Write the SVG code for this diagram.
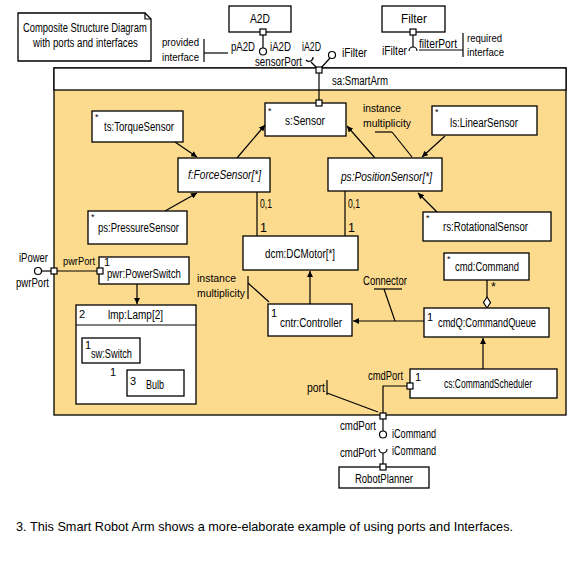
<svg xmlns="http://www.w3.org/2000/svg" width="575" height="561" viewBox="0 0 575 561">
<style>
.t{font-family:"Liberation Sans",Arial,sans-serif;font-size:12.5px;fill:#000}
.m{font-family:"Liberation Sans",Arial,sans-serif;font-size:11px;fill:#000}
.n{font-family:"Liberation Sans",Arial,sans-serif;font-size:11px;fill:#000}
.s{font-family:"Liberation Sans",Arial,sans-serif;font-size:9px;fill:#000}
.i{font-style:italic}
.b{fill:#fff;stroke:#000;stroke-width:1.3}
.l{fill:none;stroke:#000;stroke-width:1.2}
.p{fill:#fff;stroke:#000;stroke-width:1.2}
.cap{font-family:"Liberation Sans",Arial,sans-serif;font-size:13px;fill:#000}
</style>
<defs>
<marker id="a" markerUnits="userSpaceOnUse" markerWidth="7" markerHeight="6" refX="6" refY="3" orient="auto">
<path d="M0,0 L6,3 L0,6 z" fill="#000"/>
</marker>
</defs>
<rect width="575" height="561" fill="#fff"/>

<g id="note">
<path class="b" d="M18,13 H145 L151,19 V61 H18 Z"/>
<path class="l" d="M145,13 V19 H151"/>
<text class="t" transform="translate(23,32) scale(0.753,1)">Composite Structure Diagram</text>
<text class="t" transform="translate(33,47) scale(0.775,1)">with ports and interfaces</text>
</g>

<g id="A2D">
<rect class="b" x="229" y="6" width="62" height="26"/>
<text class="t" x="250" y="23" textLength="20" lengthAdjust="spacingAndGlyphs">A2D</text>
<line class="l" x1="263" y1="35" x2="263" y2="48"/>
<circle class="p" cx="263" cy="51.5" r="3.5"/>
<rect class="p" x="260" y="29" width="6" height="6"/>
<text class="t" x="231" y="51" textLength="24" lengthAdjust="spacingAndGlyphs">pA2D</text>
<text class="t" x="270" y="51" textLength="21" lengthAdjust="spacingAndGlyphs">iA2D</text>
<text class="t" x="255" y="66" textLength="47" lengthAdjust="spacingAndGlyphs">sensorPort</text>
</g>

<g id="provided-note">
<text class="m" x="162" y="46" textLength="37" lengthAdjust="spacingAndGlyphs">provided</text>
<text class="m" x="162" y="61" textLength="37" lengthAdjust="spacingAndGlyphs">interface</text>
<line class="l" x1="204" y1="39" x2="204" y2="62"/>
<line class="l" x1="204" y1="53" x2="228" y2="53"/>
</g>

<g id="Filter">
<rect class="b" x="382" y="6" width="63" height="26"/>
<text class="t" x="401" y="23" textLength="26" lengthAdjust="spacingAndGlyphs">Filter</text>
<line class="l" x1="413" y1="35" x2="413" y2="47"/>
<path class="l" d="M409,51 A4,4 0 0 1 417,51"/>
<rect class="p" x="410" y="29" width="6" height="6"/>
<text class="t" x="382" y="55" textLength="25" lengthAdjust="spacingAndGlyphs">iFilter</text>
<text class="t" x="419" y="48" textLength="38" lengthAdjust="spacingAndGlyphs">filterPort</text>
<line class="l" x1="419" y1="50" x2="463" y2="50"/>
<line class="l" x1="463" y1="33" x2="463" y2="57"/>
<text class="m" x="467" y="42" textLength="35" lengthAdjust="spacingAndGlyphs">required</text>
<text class="m" x="467" y="56" textLength="37" lengthAdjust="spacingAndGlyphs">interface</text>
</g>

<g id="SmartArm">
<rect x="54" y="68" width="512" height="347" fill="#FCDB8E" stroke="#000" stroke-width="1.3"/>
<rect x="54" y="68" width="512" height="22" fill="#fff" stroke="#000" stroke-width="1.3"/>
<text class="t" x="332" y="85" textLength="56" lengthAdjust="spacingAndGlyphs">sa:SmartArm</text>
<line class="l" x1="317" y1="68" x2="311" y2="62"/>
<path class="l" d="M306,60 A4,4 0 0 0 313,57"/>
<line class="l" x1="321" y1="68" x2="330" y2="58"/>
<circle class="p" cx="332" cy="55" r="3.5"/>
<text class="t" x="302" y="51" textLength="19" lengthAdjust="spacingAndGlyphs">iA2D</text>
<text class="t" x="342" y="57" textLength="25" lengthAdjust="spacingAndGlyphs">iFilter</text>
<line class="l" x1="319" y1="73" x2="319" y2="101"/>
<rect class="p" x="316" y="67" width="6" height="6"/>
</g>

<g id="connectors">
<line class="l" x1="175" y1="142" x2="197" y2="157" marker-end="url(#a)"/>
<line class="l" x1="237" y1="158" x2="265" y2="125" marker-end="url(#a)"/>
<line class="l" x1="165" y1="211" x2="197" y2="193" marker-end="url(#a)"/>
<line class="l" x1="375" y1="158" x2="347" y2="126" marker-end="url(#a)"/>
<line class="l" x1="445" y1="136" x2="422" y2="157" marker-end="url(#a)"/>
<line class="l" x1="437" y1="212" x2="418" y2="193" marker-end="url(#a)"/>
<line class="l" x1="257" y1="192" x2="257" y2="236"/>
<line class="l" x1="345" y1="191" x2="345" y2="236"/>
<line class="l" x1="310" y1="304" x2="310" y2="271" marker-end="url(#a)"/>
<line class="l" x1="424" y1="321" x2="353" y2="321" marker-end="url(#a)"/>
<line class="l" x1="487" y1="280" x2="487" y2="297"/>
<polygon points="487,297 490.5,302.5 487,308 483.5,302.5" fill="#fff" stroke="#000" stroke-width="1.2"/>
<line class="l" x1="483" y1="369" x2="483" y2="338" marker-end="url(#a)"/>
<polyline class="l" points="407,386 383,386 383,413"/>
<line class="l" x1="57" y1="271" x2="97" y2="271"/>
<line class="l" x1="137" y1="284" x2="137" y2="304" marker-end="url(#a)"/>
<polyline class="l" points="107,363 107,383 127,383"/>
<line class="l" x1="41.5" y1="271" x2="51" y2="271"/>
<line class="l" x1="383" y1="419" x2="383" y2="431"/>
<line class="l" x1="383" y1="453" x2="383" y2="464"/>
</g>

<g id="annotations">
<text class="m" x="363" y="112" textLength="38" lengthAdjust="spacingAndGlyphs">instance</text>
<text class="m" x="363" y="127" textLength="48" lengthAdjust="spacingAndGlyphs">multiplicity</text>
<line class="l" x1="375" y1="132" x2="392" y2="132"/>
<line class="l" x1="392" y1="132" x2="412" y2="157"/>
<text class="m" x="197" y="282" textLength="39" lengthAdjust="spacingAndGlyphs">instance</text>
<text class="m" x="197" y="297" textLength="48" lengthAdjust="spacingAndGlyphs">multiplicity</text>
<line class="l" x1="248" y1="276" x2="248" y2="299"/>
<line class="l" x1="248" y1="283" x2="269" y2="302"/>
<text class="t" x="363" y="285" textLength="44" lengthAdjust="spacingAndGlyphs">Connector</text>
<line class="l" x1="374" y1="289" x2="402" y2="289"/>
<line class="l" x1="384" y1="289" x2="395" y2="321"/>
<text class="t" x="307" y="392" textLength="18" lengthAdjust="spacingAndGlyphs">port</text>
<line class="l" x1="327" y1="380" x2="327" y2="395"/>
<line class="l" x1="327" y1="393" x2="378" y2="412"/>
<text class="t" x="260" y="208" textLength="12" lengthAdjust="spacingAndGlyphs">0,1</text>
<text class="t" x="260" y="232">1</text>
<text class="t" x="348" y="208" textLength="12" lengthAdjust="spacingAndGlyphs">0,1</text>
<text class="t" x="348" y="232">1</text>
<text class="t" x="491" y="291">*</text>
</g>

<g id="sSensor">
<rect class="b" x="265" y="103" width="81" height="33"/>
<text class="s" x="268" y="114">*</text>
<text class="t" x="285" y="125" textLength="40" lengthAdjust="spacingAndGlyphs">s:Sensor</text>
<rect class="p" x="316" y="100" width="6" height="6"/>
</g>

<g id="tsTorqueSensor">
<rect class="b" x="92" y="111" width="91" height="31"/>
<text class="s" x="95" y="120">*</text>
<text class="t" x="104" y="131" textLength="70" lengthAdjust="spacingAndGlyphs">ts:TorqueSensor</text>
</g>

<g id="lsLinearSensor">
<rect class="b" x="432" y="106" width="105" height="29"/>
<text class="s" x="435" y="115">*</text>
<text class="t" x="450" y="127" textLength="68" lengthAdjust="spacingAndGlyphs">ls:LinearSensor</text>
</g>

<g id="fForceSensor">
<rect class="b" x="178" y="158" width="92" height="34"/>
<text class="t i" x="188" y="179" textLength="73" lengthAdjust="spacingAndGlyphs">f:ForceSensor[*]</text>
</g>

<g id="psPositionSensor">
<rect class="b" x="328" y="158" width="114" height="33"/>
<text class="t i" x="341" y="181" textLength="91" lengthAdjust="spacingAndGlyphs">ps:PositionSensor[*]</text>
</g>

<g id="psPressureSensor">
<rect class="b" x="88" y="211" width="99" height="33"/>
<text class="s" x="91" y="220">*</text>
<text class="t" x="98" y="232" textLength="81" lengthAdjust="spacingAndGlyphs">ps:PressureSensor</text>
</g>

<g id="rsRotationalSensor">
<rect class="b" x="423" y="212" width="128" height="29"/>
<text class="s" x="426" y="221">*</text>
<text class="t" x="443" y="231" textLength="85" lengthAdjust="spacingAndGlyphs">rs:RotationalSensor</text>
</g>

<g id="dcmDCMotor">
<rect class="b" x="243" y="236" width="115" height="34"/>
<text class="t" x="265" y="258" textLength="70" lengthAdjust="spacingAndGlyphs">dcm:DCMotor[*]</text>
</g>

<g id="cntrController">
<rect class="b" x="268" y="304" width="84" height="32"/>
<text class="n" x="271" y="317">1</text>
<text class="t" x="280" y="327" textLength="62" lengthAdjust="spacingAndGlyphs">cntr:Controller</text>
</g>

<g id="cmdCommand">
<rect class="b" x="444" y="253" width="85" height="27"/>
<text class="s" x="447" y="262">*</text>
<text class="t" x="455" y="271" textLength="64" lengthAdjust="spacingAndGlyphs">cmd:Command</text>
</g>

<g id="cmdQCommandQueue">
<rect class="b" x="424" y="308" width="125" height="29"/>
<text class="n" x="427" y="321">1</text>
<text class="t" x="438" y="327" textLength="98" lengthAdjust="spacingAndGlyphs">cmdQ:CommandQueue</text>
</g>

<g id="csCommandScheduler">
<rect class="b" x="410" y="369" width="147" height="29"/>
<text class="n" x="415" y="381">1</text>
<text class="t" x="444" y="388" textLength="88" lengthAdjust="spacingAndGlyphs">cs:CommandScheduler</text>
<rect class="p" x="407" y="383" width="6" height="6"/>
<text class="t" x="368" y="380" textLength="35" lengthAdjust="spacingAndGlyphs">cmdPort</text>
</g>

<g id="pwrPowerSwitch">
<rect class="b" x="99" y="257" width="90" height="27"/>
<text class="n" x="104" y="266">1</text>
<text class="t" transform="translate(107,278) scale(0.772,1)">pwr:PowerSwitch</text>
<rect class="p" x="97" y="268" width="6" height="6"/>
<text class="m" x="63" y="265" textLength="32" lengthAdjust="spacingAndGlyphs">pwrPort</text>
</g>

<g id="pwrPort">
<circle class="p" cx="38" cy="271" r="3.5"/>
<rect class="p" x="51" y="268" width="6" height="6"/>
<text class="t" x="19" y="262" textLength="29" lengthAdjust="spacingAndGlyphs">iPower</text>
<text class="t" x="16" y="287" textLength="33" lengthAdjust="spacingAndGlyphs">pwrPort</text>
</g>

<g id="lmpLamp">
<rect class="b" x="76" y="305" width="120" height="99"/>
<line class="l" x1="76" y1="325" x2="196" y2="325"/>
<text class="n" x="79" y="318">2</text>
<text class="t" x="108" y="319" textLength="55" lengthAdjust="spacingAndGlyphs">lmp:Lamp[2]</text>
</g>

<g id="swSwitch">
<rect class="b" x="82" y="338" width="58" height="25"/>
<text class="n" x="85" y="349">1</text>
<text class="t" x="91" y="358" textLength="41" lengthAdjust="spacingAndGlyphs">sw:Switch</text>
<text class="n" x="110" y="376">1</text>
</g>

<g id="Bulb">
<rect class="b" x="127" y="370" width="57" height="26"/>
<text class="n" x="130" y="385">3</text>
<text class="t" x="146" y="389" textLength="18" lengthAdjust="spacingAndGlyphs">Bulb</text>
</g>

<g id="cmdPortOuter">
<rect class="p" x="380" y="413" width="6" height="6"/>
<circle class="p" cx="383" cy="434.5" r="3.5"/>
<path class="l" d="M379,449 A4,4 0 0 0 387,449"/>
<text class="t" x="340" y="430" textLength="36" lengthAdjust="spacingAndGlyphs">cmdPort</text>
<text class="t" x="392" y="438" textLength="44" lengthAdjust="spacingAndGlyphs">iCommand</text>
<text class="t" x="340" y="457" textLength="36" lengthAdjust="spacingAndGlyphs">cmdPort</text>
<text class="t" x="392" y="455" textLength="44" lengthAdjust="spacingAndGlyphs">iCommand</text>
</g>

<g id="RobotPlanner">
<rect class="b" x="339" y="467" width="90" height="21"/>
<rect class="p" x="380" y="464" width="6" height="6"/>
<text class="t" x="355" y="483" textLength="58" lengthAdjust="spacingAndGlyphs">RobotPlanner</text>
</g>

<text class="cap" x="16" y="531" textLength="497" lengthAdjust="spacingAndGlyphs">3. This Smart Robot Arm shows a more-elaborate example of using ports and Interfaces.</text>
</svg>
